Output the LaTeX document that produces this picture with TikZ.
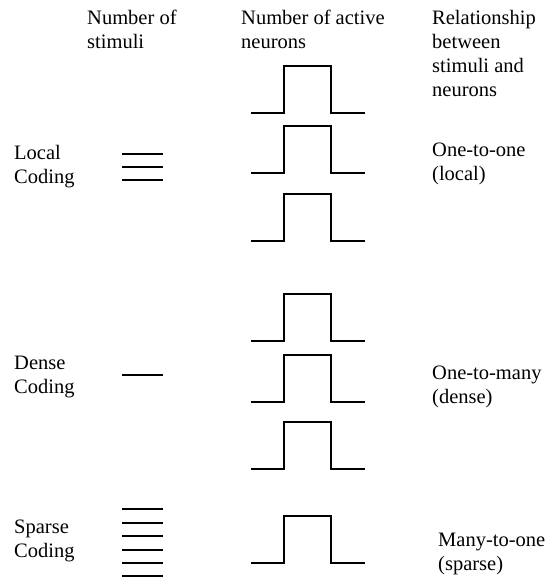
\documentclass[tikz,border=0pt]{standalone}
\usepackage{fontspec}
\setmainfont{Liberation Serif}
\usetikzlibrary{positioning}

\tikzset{
    label/.style={anchor=base west, align=left, inner sep=0pt, font=\fontsize{20.5}{24}\selectfont},
    wire/.style={line width=1.1pt},
}

\begin{document}
\begin{tikzpicture}[x=1pt,y=-1pt]
            \useasboundingbox (0,0) rectangle (554,577);
            % column headings (base = last line)
            \node[label] (hstim) at (87,49) {Number of\\stimuli};
            \node[label] (hneur) at (241,49) {Number of active\\neurons};
            \node[label] (hrel) at (432,97) {Relationship\\between\\stimuli and\\neurons};
            % row labels
            \node[label] (local) at (14,183) {Local\\Coding};
            \node[label] (dense) at (14,393) {Dense\\Coding};
            \node[label] (sparse) at (14,557) {Sparse\\Coding};
            \node[label] (onetoone) at (432,181) {One-to-one\\(local)};
            \node[label] (onetomany) at (432,403) {One-to-many\\(dense)};
            \node[label] (manytoone) at (438,570) {Many-to-one\\(sparse)};
            % stimuli
            \foreach \y in {154,167,180,375,509,523,536,550,563,576}
                \draw[wire] (122,\y) -- (163,\y);
            % active neurons
            \foreach \t in {66,126,194,294,355,422,516}
                \draw[wire] (251,\t+47) -- (284,\t+47) -- (284,\t) -- (331,\t) -- (331,\t+47) -- (365,\t+47);
        \end{tikzpicture}
\end{document}
